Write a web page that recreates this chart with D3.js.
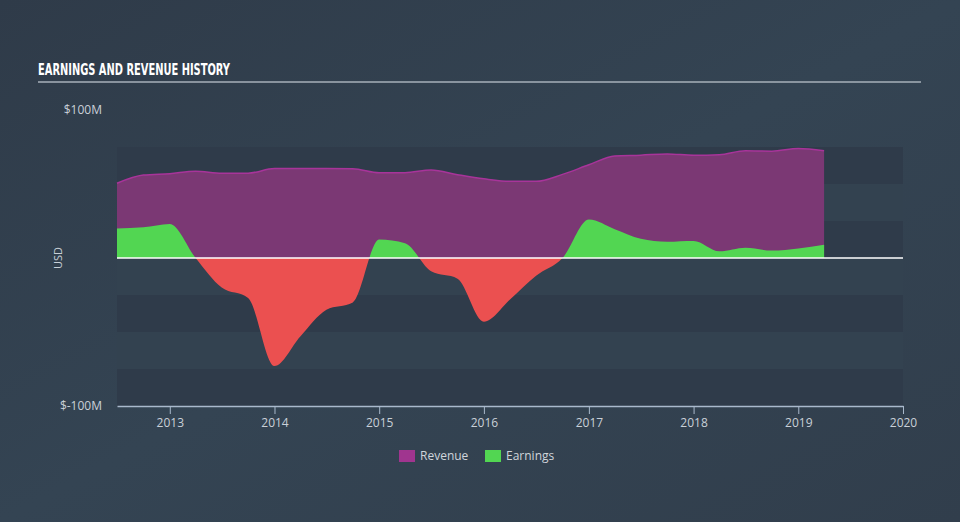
<!DOCTYPE html>
<html><head><meta charset="utf-8">
<script src="https://cdnjs.cloudflare.com/ajax/libs/d3/7.8.5/d3.min.js"></script>
<style>
html,body{margin:0;padding:0;background:#333f4e;}
svg{display:block;}
</style></head>
<body>
<svg id="chart" width="960" height="522"></svg>
<script>
const dates = ["2012-07-01","2012-10-01","2013-01-01","2013-04-01","2013-07-01","2013-10-01",
"2014-01-01","2014-04-01","2014-07-01","2014-10-01","2015-01-01","2015-04-01","2015-07-01","2015-10-01",
"2016-01-01","2016-04-01","2016-07-01","2016-10-01","2017-01-01","2017-04-01","2017-07-01","2017-10-01",
"2018-01-01","2018-04-01","2018-07-01","2018-10-01","2019-01-01","2019-04-01"];
const revenue = [50.5,56,57,58.6,57.2,57.3,60.4,60.4,60.4,60.3,57.6,57.6,59.5,56.3,53.5,51.8,51.8,56.5,63,69,69.5,70.3,69.4,69.8,72.5,72.2,74,72.5];
const earnings = [20,20.7,23,0,-20,-27,-73,-53,-35,-30,12.5,10,-9,-14,-43,-28,-12,0,26,19.5,13,11,11.5,4.5,7,5,6.5,9];
const yTickLabels = ["$100M","$-100M"];
const yTickValues = [100,-100];
const xTickYears = [2013,2014,2015,2016,2017,2018,2019,2020];
const seriesNames = ["Revenue","Earnings"];
const seriesColors = ["#a0358f","#52d652"];

const parse = d3.timeParse("%Y-%m-%d");
const data = dates.map((d,i)=>({date:parse(d),rev:revenue[i],earn:earnings[i]}));

const svg = d3.select("#chart");
const defs = svg.append("defs");
const grad = defs.append("linearGradient").attr("id","bg").attr("x1",0).attr("y1",0).attr("x2",1).attr("y2",1);
grad.append("stop").attr("offset","0%").attr("stop-color","#2f3b49");
grad.append("stop").attr("offset","50%").attr("stop-color","#344453");
grad.append("stop").attr("offset","100%").attr("stop-color","#313e4c");
svg.append("rect").attr("width",960).attr("height",522).attr("fill","url(#bg)");

const left=117,right=903;
const x = d3.scaleTime().domain([new Date(2012,6,1),new Date(2020,0,1)]).range([left,right]);
const y = d3.scaleLinear().domain([-100,100]).range([406,110]);

// bands
const bandEdges = d3.range(75,-100,-25);
bandEdges.forEach((v,i)=>{
  svg.append("rect").attr("x",left).attr("width",right-left)
    .attr("y",y(v)).attr("height",y(v-25)-y(v))
    .attr("fill", i%2===0 ? "#2f3b4a" : "#334250");
});

// title
svg.append("text").attr("x",38).attr("y",75)
  .attr("font-family","'DejaVu Sans Condensed','DejaVu Sans',sans-serif")
  .attr("font-weight","bold").attr("font-size",15).attr("fill","#ffffff")
  .attr("textLength",192).attr("lengthAdjust","spacingAndGlyphs")
  .text("EARNINGS AND REVENUE HISTORY");
svg.append("line").attr("x1",38).attr("x2",921).attr("y1",82).attr("y2",82)
  .attr("stroke","#a7b0ba").attr("stroke-width",1.5);

const curve = d3.curveMonotoneX;
// revenue area
svg.append("path").datum(data)
  .attr("d",d3.area().curve(curve).x(d=>x(d.date)).y0(y(0)).y1(d=>y(d.rev)))
  .attr("fill","#7b3874");
svg.append("path").datum(data)
  .attr("d",d3.line().curve(curve).x(d=>x(d.date)).y(d=>y(d.rev)))
  .attr("fill","none").attr("stroke","#a8349a").attr("stroke-width",1.5);

// earnings clip
defs.append("clipPath").attr("id","pos").append("rect").attr("x",0).attr("y",0).attr("width",960).attr("height",y(0));
defs.append("clipPath").attr("id","neg").append("rect").attr("x",0).attr("y",y(0)).attr("width",960).attr("height",522);
const earnArea = d3.area().curve(curve).x(d=>x(d.date)).y0(y(0)).y1(d=>y(d.earn));
svg.append("path").datum(data).attr("d",earnArea).attr("fill","#52d652").attr("clip-path","url(#pos)");
svg.append("path").datum(data).attr("d",earnArea).attr("fill","#eb5050").attr("clip-path","url(#neg)");

// zero line
svg.append("line").attr("x1",left).attr("x2",right).attr("y1",y(0)).attr("y2",y(0))
  .attr("stroke","#ffffff").attr("stroke-width",1.5);

// x axis
const xAxis = d3.axisBottom(x).tickValues(xTickYears.map(yr=>new Date(yr,0,1)))
  .tickFormat(d3.timeFormat("%Y")).tickSize(8).tickSizeOuter(0);
const gx = svg.append("g").attr("transform",`translate(0,${y(-100)})`).call(xAxis);
gx.select(".domain").attr("stroke","#a9b9cc").attr("stroke-width",1.5);
gx.selectAll(".tick line").attr("stroke","#a9b9cc");
gx.selectAll(".tick text").attr("fill","#c9d0d8").attr("font-size",12)
  .attr("font-family","'Open Sans',sans-serif").attr("dy","0.8em");

// y labels
yTickValues.forEach((v,i)=>{
  svg.append("text").attr("x",102).attr("y",y(v)).attr("dy","0.35em")
    .attr("text-anchor","end").attr("fill","#c9d0d8").attr("font-size",12)
    .attr("font-family","'Open Sans',sans-serif").text(yTickLabels[i]);
});
svg.append("text").attr("transform",`translate(62,${y(0)}) rotate(-90)`)
  .attr("text-anchor","middle").attr("fill","#c9d0d8").attr("font-size",11)
  .attr("font-family","'Open Sans',sans-serif").text("USD");

// legend
const legX=[399,485];
seriesNames.forEach((n,i)=>{
  svg.append("rect").attr("x",legX[i]).attr("y",450).attr("width",16).attr("height",12).attr("fill",seriesColors[i]);
  svg.append("text").attr("x",legX[i]+21).attr("y",456).attr("dy","0.35em")
    .attr("fill","#d0d5db").attr("font-size",12).attr("font-family","'Open Sans',sans-serif").text(n);
});
</script>
</body></html>
